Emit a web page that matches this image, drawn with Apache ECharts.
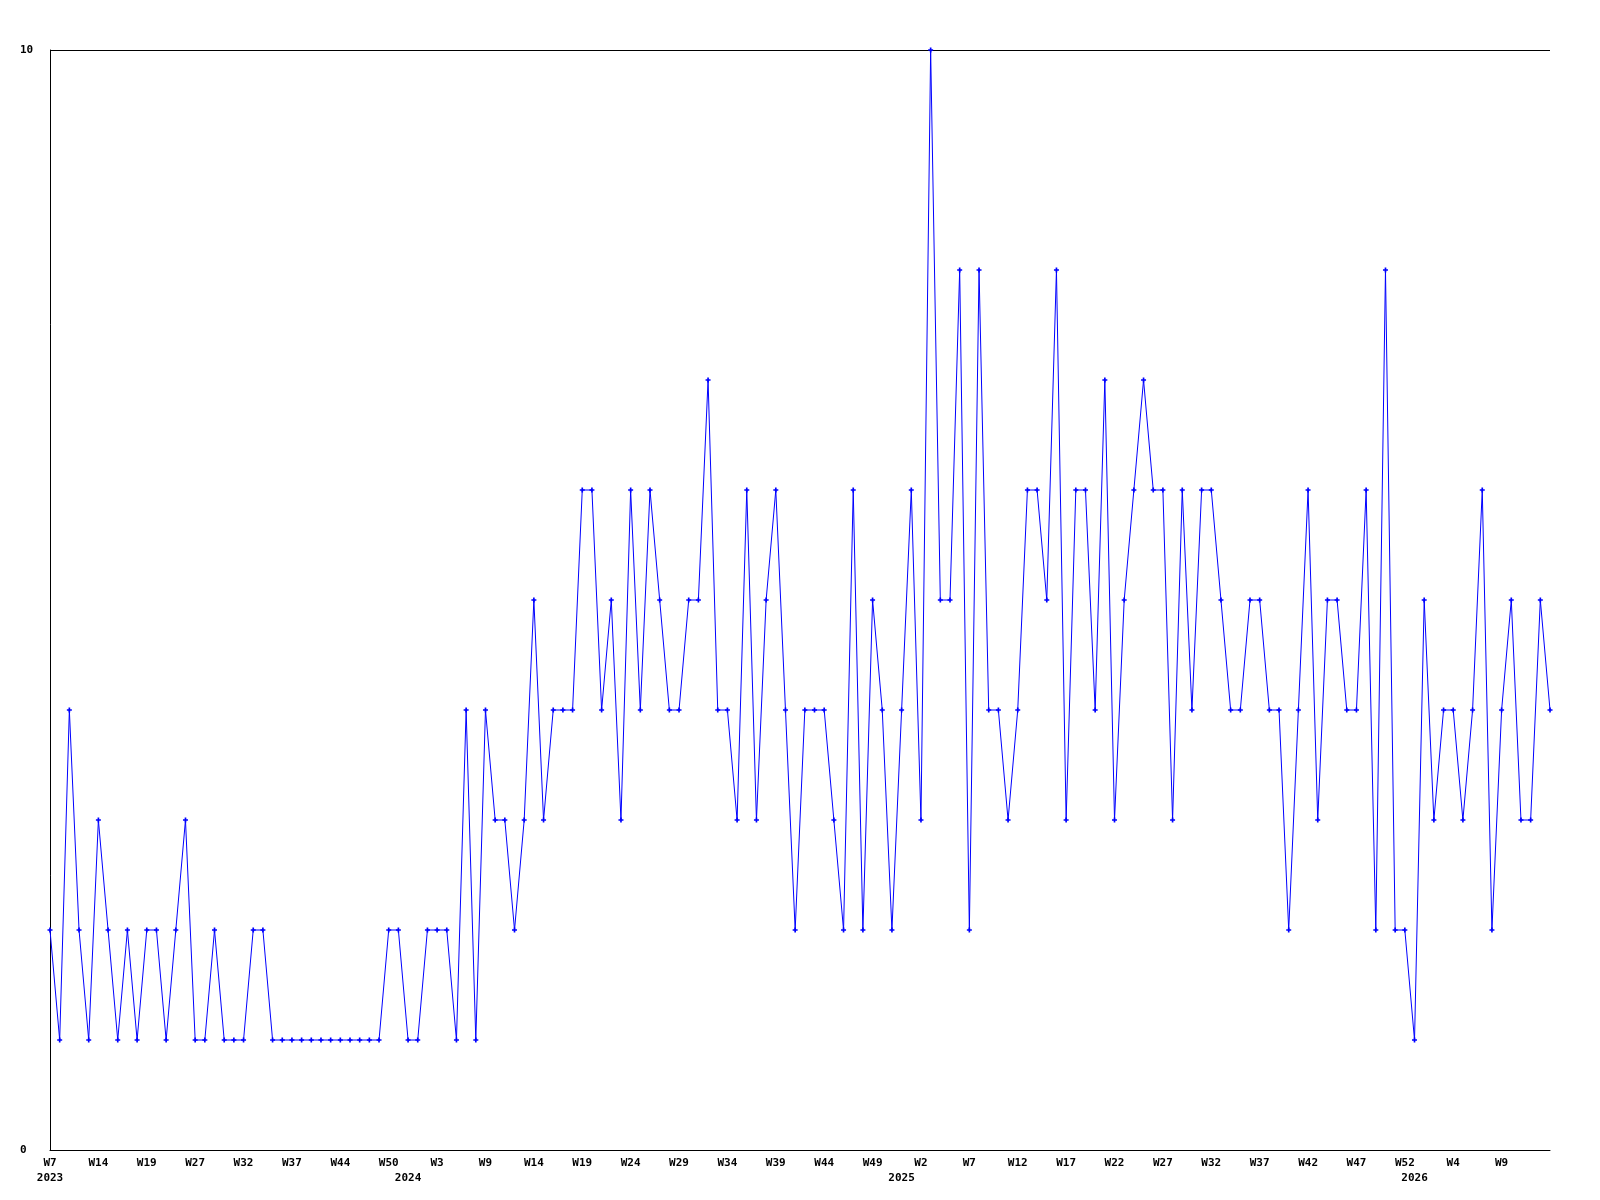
<!DOCTYPE html>
<html>
<head>
<meta charset="utf-8">
<script src="https://cdn.jsdelivr.net/npm/echarts@6/dist/echarts.min.js"></script>
<style>
html, body { margin: 0; padding: 0; background: #ffffff; }
#chart { width: 1600px; height: 1200px; }
</style>
</head>
<body>
<div id="chart"></div>
<script>
// Weekly values, 156 points
const values = [
  2,1,4,2,1,3,2,1,2,1,2,2,1,2,3,1,1,2,1,1,1,2,2,1,1,1,1,1,1,1,1,1,1,1,1,2,2,1,1,2,2,
  2,1,4,1,4,3,3,2,3,5,3,4,4,4,6,6,4,5,3,6,4,6,5,4,4,5,5,7,4,4,3,6,3,5,6,4,2,4,4,4,
  3,2,6,2,5,4,2,4,6,3,10,5,5,8,2,8,4,4,3,4,6,6,5,8,3,6,6,4,7,3,5,6,7,6,6,3,6,4,6,
  6,5,4,4,5,5,4,4,2,4,6,3,5,5,4,4,6,2,8,2,2,1,5,3,4,4,3,4,6,2,4,5,3,3,5,4
];
// Week tick labels shown on every 5th point
const weekTicks = ['W7','W14','W19','W27','W32','W37','W44','W50','W3','W9','W14','W19','W24','W29','W34','W39',
  'W44','W49','W2','W7','W12','W17','W22','W27','W32','W37','W42','W47','W52','W4','W9'];
// First point of each year (index) and year label
const yearIndex = [0, 37, 88, 141];
const yearLabels = ['2023','2024','2025','2026'];
// y-axis tick labels
const yTicks = [0, 10];

const categories = values.map((v, i) => String(i));

function hasWeek(i) { return i % 5 === 0 && (i / 5) < weekTicks.length; }

const chart = echarts.init(document.getElementById('chart'));
const font = '"DejaVu Sans Mono", "Liberation Mono", monospace';

chart.setOption({
  animation: false,
  backgroundColor: '#ffffff',
  grid: { left: 50, right: 50, top: 50, bottom: 50, containLabel: false },
  xAxis: {
    type: 'category',
    data: categories,
    boundaryGap: false,
    axisLine: { show: true, lineStyle: { color: '#000000', width: 1 } },
    axisTick: { show: false },
    splitLine: { show: false },
    axisLabel: {
      interval: function (index) { return hasWeek(index) || yearIndex.indexOf(index) >= 0; },
      formatter: function (value, index) {
        const w = hasWeek(index) ? weekTicks[index / 5] : ' ';
        const yi = yearIndex.indexOf(index);
        const y = yi >= 0 ? yearLabels[yi] : ' ';
        return w + '\n' + y;
      },
      fontFamily: font,
      fontWeight: 'bold',
      fontSize: 11,
      lineHeight: 15,
      color: '#000000',
      margin: 6,
      hideOverlap: false
    }
  },
  yAxis: {
    type: 'value',
    min: yTicks[0],
    max: yTicks[1],
    interval: 10,
    axisLine: { show: true, lineStyle: { color: '#000000', width: 1 } },
    axisTick: { show: false },
    splitLine: { show: true, lineStyle: { color: '#000000', width: 1 } },
    axisLabel: {
      align: 'left',
      margin: 30,
      fontFamily: font,
      fontWeight: 'bold',
      fontSize: 11,
      color: '#000000'
    }
  },
  series: [{
    type: 'line',
    data: values,
    symbol: 'path://M2,0H4V2H6V4H4V6H2V4H0V2H2Z',
    symbolSize: 5,
    showSymbol: true,
    itemStyle: { color: '#0000ff' },
    lineStyle: { color: '#0000ff', width: 1 }
  }]
});
</script>
</body>
</html>
